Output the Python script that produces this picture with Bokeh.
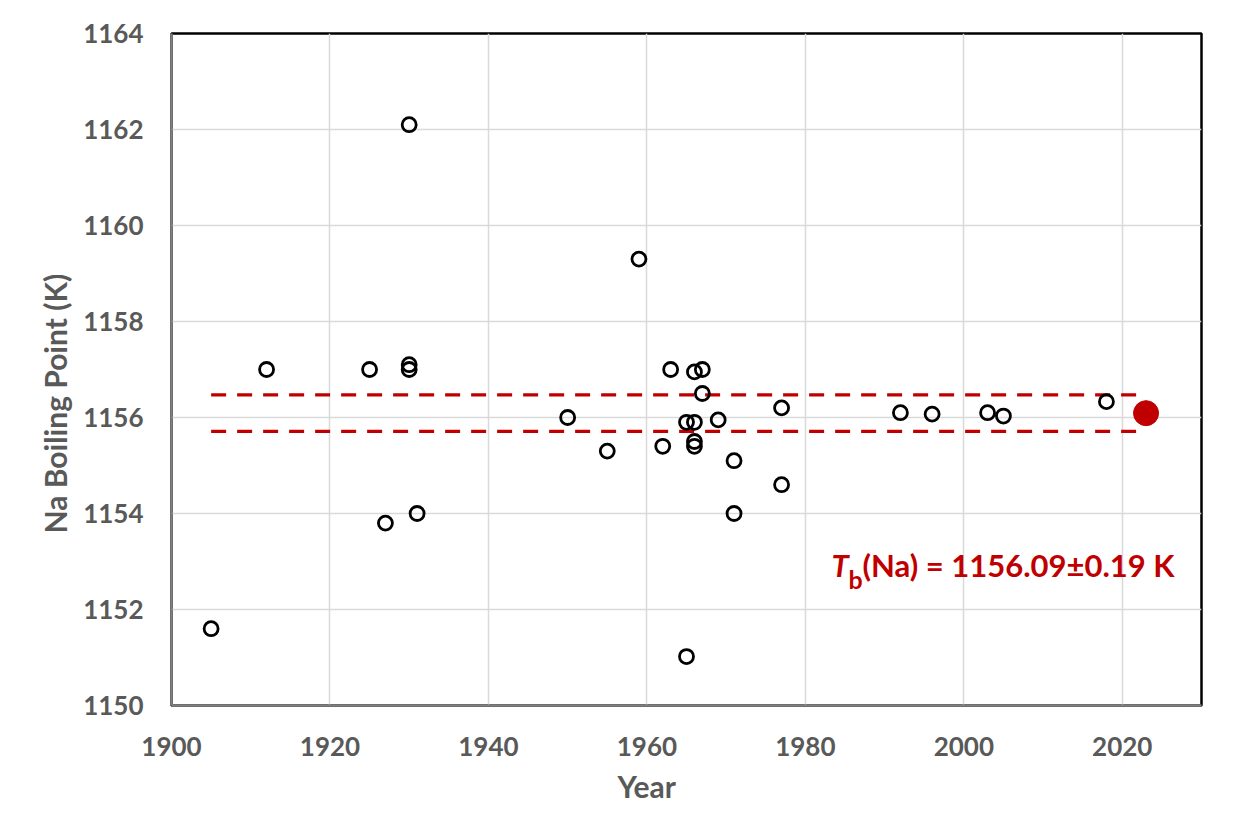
from bokeh.plotting import figure
from bokeh.models import Range1d, FixedTicker, Label, Title
from bokeh.embed import file_html
from bokeh.resources import INLINE

# Literature data (open circles)
years = [1905, 1912, 1925, 1927, 1930, 1930, 1930, 1931, 1950, 1955, 1959,
         1962, 1963, 1965, 1965, 1966, 1966, 1966, 1966, 1967, 1967, 1969,
         1971, 1971, 1977, 1977, 1992, 1996, 2003, 2005, 2018]
values = [1151.6, 1157.0, 1157.0, 1153.8, 1162.1, 1157.1, 1157.0, 1154.0, 1156.0, 1155.3, 1159.3,
          1155.4, 1157.0, 1155.9, 1151.02, 1156.95, 1155.9, 1155.5, 1155.4, 1157.0, 1156.5, 1155.95,
          1155.1, 1154.0, 1156.2, 1154.6, 1156.1, 1156.07, 1156.1, 1156.03, 1156.33]

# This work (filled red)
new_year = [2023]
new_value = [1156.09]

# Uncertainty band (dashed)
band_years = [1905, 2022]
band_upper = [1156.47, 1156.47]
band_lower = [1155.71, 1155.71]

x_ticks = [1900, 1920, 1940, 1960, 1980, 2000, 2020]
y_ticks = [1150, 1152, 1154, 1156, 1158, 1160, 1162, 1164]

FONT = "Lato"
GRAY = "#595959"
RED = "#c00000"

p = figure(width=1249, height=831, output_backend="svg", toolbar_location=None,
           x_range=Range1d(1900, 2030), y_range=Range1d(1150, 1164),
           min_border_left=171, min_border_right=48, min_border_top=33, min_border_bottom=126)

p.outline_line_color = "black"
p.outline_line_width = 2.5

p.xgrid.ticker = FixedTicker(ticks=x_ticks)
p.ygrid.ticker = FixedTicker(ticks=y_ticks)
p.grid.grid_line_color = "#d9d9d9"
p.grid.grid_line_width = 1.5

p.xaxis.ticker = FixedTicker(ticks=x_ticks)
p.yaxis.ticker = FixedTicker(ticks=y_ticks)
for ax in (p.xaxis, p.yaxis):
    ax.axis_line_color = "#808080"
    ax.axis_line_width = 2.5
    ax.major_tick_line_color = None
    ax.minor_tick_line_color = None
    ax.major_tick_out = 0
    ax.major_tick_in = 0
    ax.major_label_text_font = FONT
    ax.major_label_text_font_style = "bold"
    ax.major_label_text_font_size = "26px"
    ax.major_label_text_color = GRAY
p.xaxis.major_label_standoff = 31
p.yaxis.major_label_standoff = 28

# axis titles (placed off-centre as in the original layout)
p.add_layout(Title(text="Year", align="left", offset=446, standoff=14, text_font=FONT,
                   text_font_style="bold", text_font_size="30px", text_color=GRAY), "below")
p.add_layout(Title(text="Na Boiling Point (K)", align="left", offset=172, standoff=15, text_font=FONT,
                   text_font_style="bold", text_font_size="30px", text_color=GRAY), "left")

p.line(band_years, band_upper, line_color=RED, line_width=3.2, line_dash="15 11")
p.line(band_years, band_lower, line_color=RED, line_width=3.2, line_dash="15 11")

p.scatter(years, values, size=14, fill_color=None, line_color="black", line_width=2.8)
p.scatter(new_year, new_value, size=25, fill_color=RED, line_color=RED)

# Annotation: T_b(Na) = 1156.09±0.19 K
ax_x, ax_y = 1983.3, 1152.93
p.add_layout(Label(x=ax_x, y=ax_y, text="T", text_font=FONT, text_font_style="bold italic",
                   text_font_size="31px", text_color=RED, text_baseline="alphabetic"))
p.add_layout(Label(x=ax_x, y=ax_y, x_offset=17, y_offset=-14, text="b", text_font=FONT,
                   text_font_style="bold", text_font_size="25px", text_color=RED,
                   text_baseline="alphabetic"))
p.add_layout(Label(x=ax_x, y=ax_y, x_offset=31, text="(Na) = 1156.09±0.19 K", text_font=FONT,
                   text_font_style="bold", text_font_size="31px", text_color=RED,
                   text_baseline="alphabetic"))

open("out.html", "w").write(file_html(p, INLINE))
